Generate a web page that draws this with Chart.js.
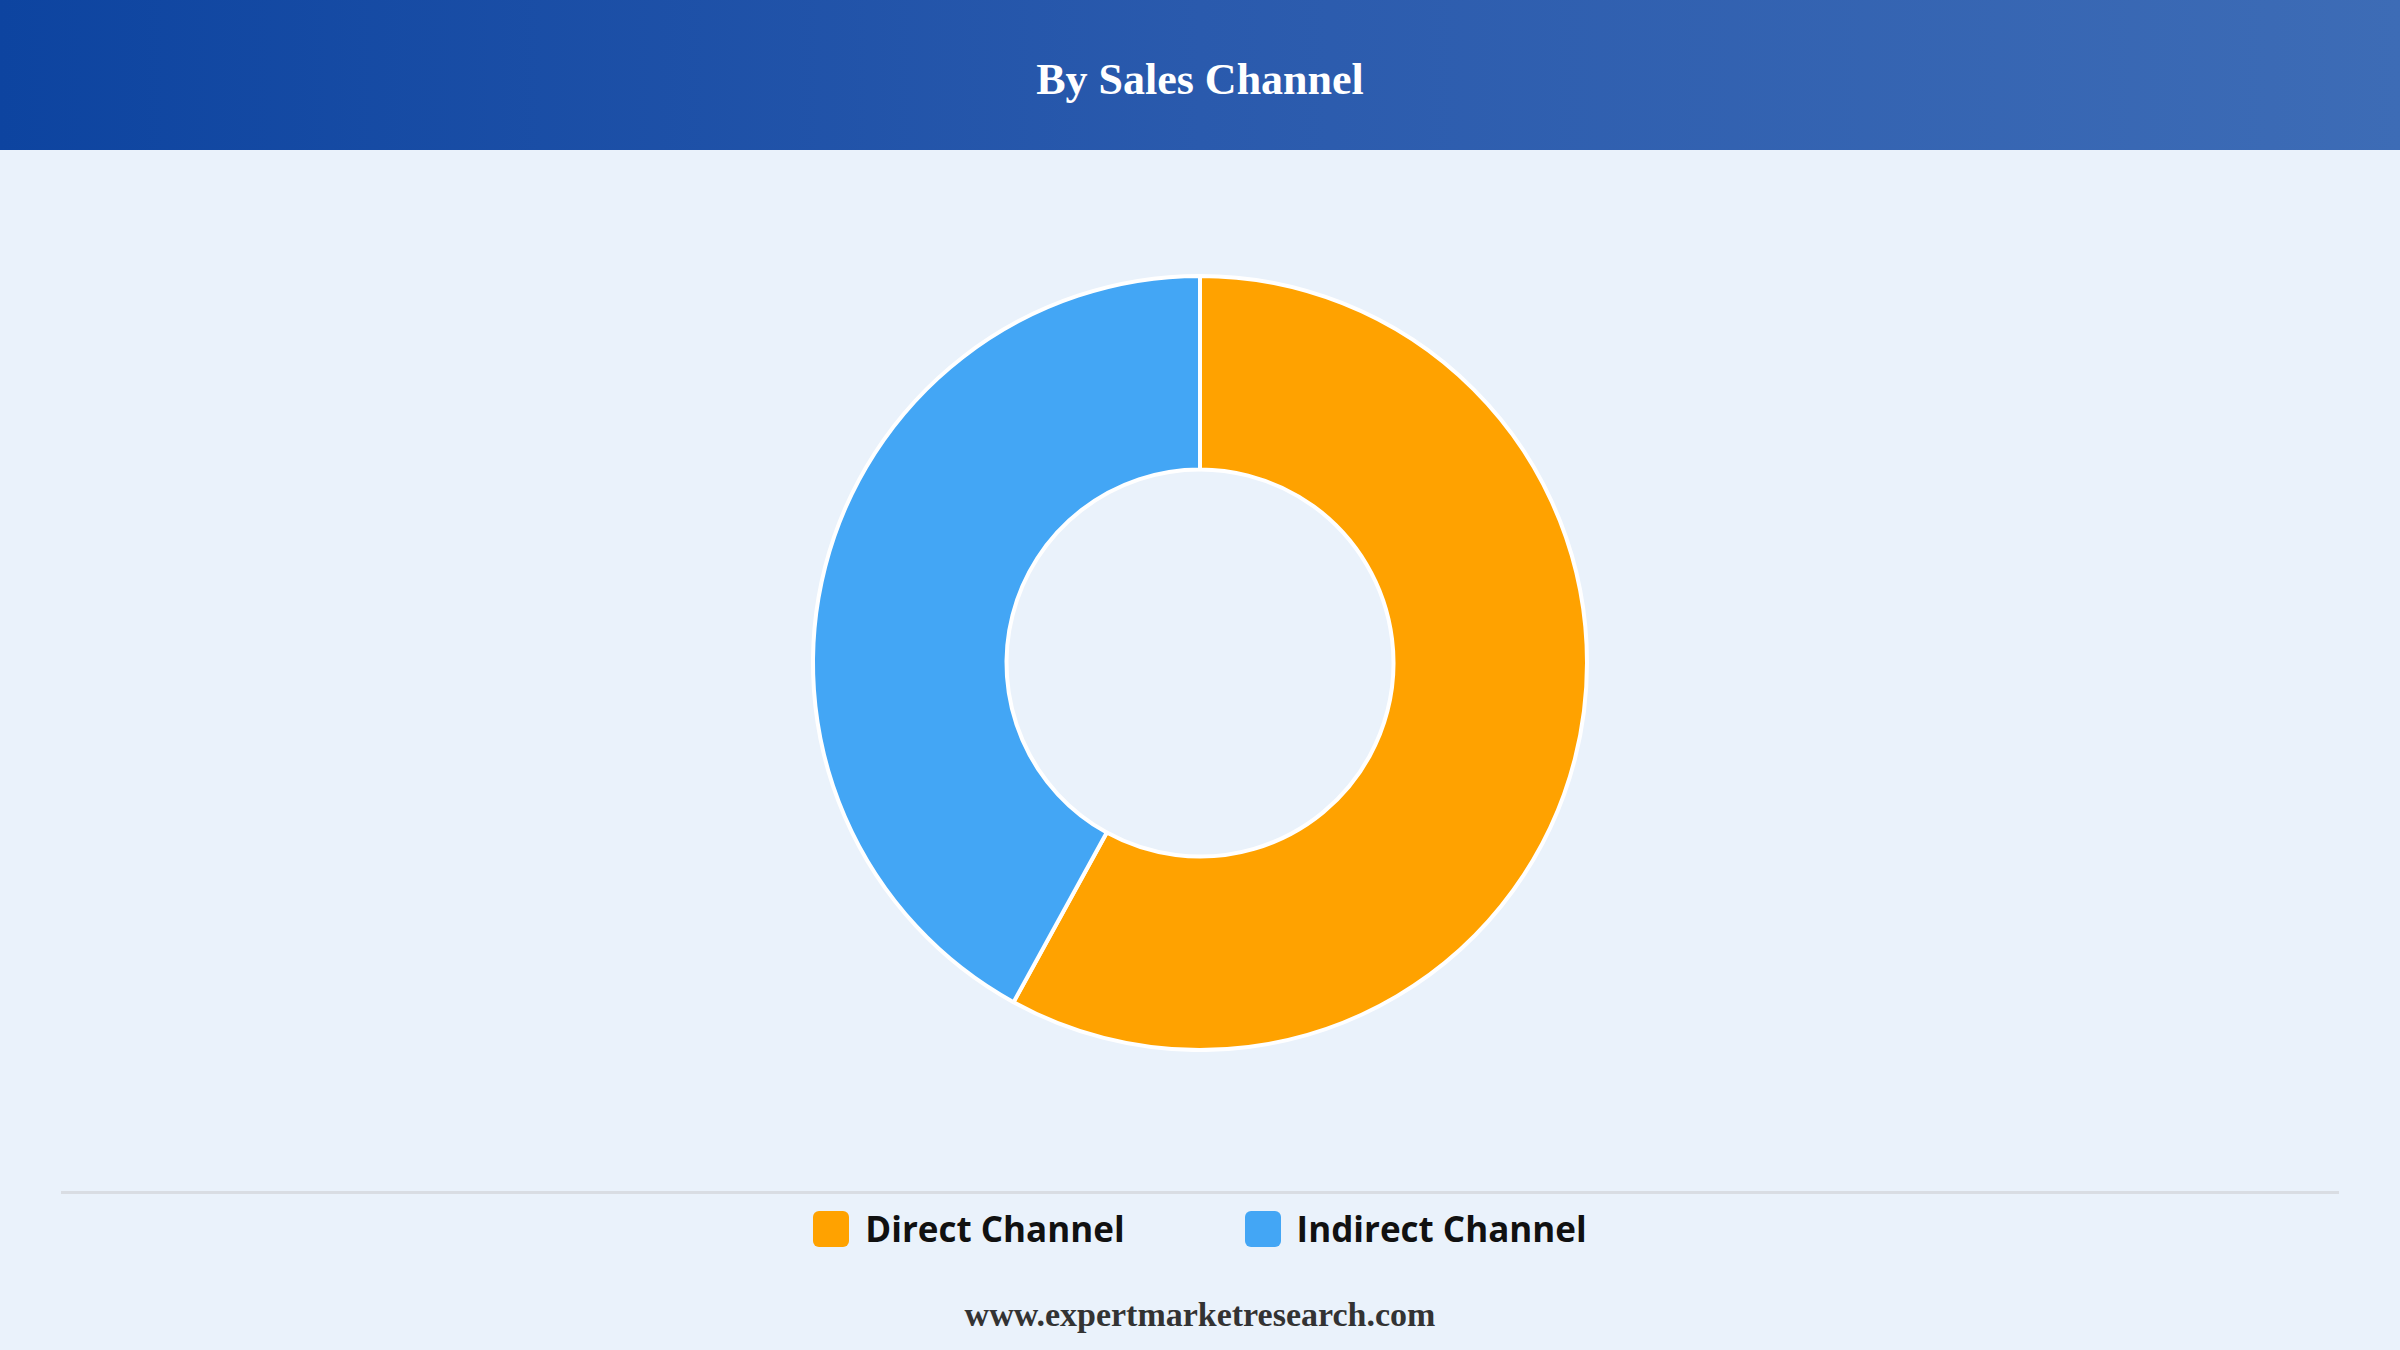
<!DOCTYPE html>
<html>
<head>
<meta charset="utf-8">
<script src="https://cdn.jsdelivr.net/npm/chart.js@4"></script>
<style>
  html, body { margin:0; padding:0; width:2400px; height:1350px; background:#eaf2fb; overflow:hidden; }
  #header { position:absolute; left:0; top:0; width:2400px; height:150px;
    background:linear-gradient(90deg,#0d44a0 0%,#2a5aad 50%,#3d6cb6 100%);
    color:#fff; font-family:"Liberation Serif","DejaVu Serif",serif; font-weight:bold;
    font-size:44px; text-align:center; line-height:160px; }
  #wrap { position:absolute; left:0; top:274px; width:2400px; height:778px; }
  #sep { position:absolute; left:61px; width:2278px; top:1191px; height:3px; background:#d9dde3; }
  #legend { position:absolute; top:1205px; left:0; width:2400px; display:flex; justify-content:center;
    font-family:"Open Sans","Noto Sans",sans-serif; font-weight:bold; font-size:35px; color:#111; }
  .item { display:flex; align-items:center; margin:0 60px; }
  .box { width:36px; height:36px; border-radius:6px; margin-right:16px; }
  #footer { position:absolute; top:1296px; width:2400px; text-align:center;
    font-family:"Liberation Serif","DejaVu Serif",serif; font-weight:bold; font-size:34px; color:#333; }
</style>
</head>
<body>
<div id="header">By Sales Channel</div>
<div id="wrap"><canvas id="chart"></canvas></div>
<div id="sep"></div>
<div id="legend"></div>
<div id="footer">www.expertmarketresearch.com</div>
<script>
// ========== Datos ==========
const CANALES = ["Direct Channel", "Indirect Channel"];
const VALORES = [58, 42];
const COLORES = ["#ffa200", "#43a6f5"];

// ========== Leyenda ==========
const leyenda = document.getElementById("legend");
CANALES.forEach((c, i) => {
  const it = document.createElement("div");
  it.className = "item";
  it.innerHTML = `<span class="box" style="background:${COLORES[i]}"></span>${c}`;
  leyenda.appendChild(it);
});

// ========== Gráfica ==========
new Chart(document.getElementById("chart"), {
  type: "doughnut",
  data: {
    labels: CANALES,
    datasets: [{ data: VALORES, backgroundColor: COLORES, borderColor: "#ffffff", borderWidth: 4 }]
  },
  options: {
    responsive: true,
    maintainAspectRatio: false,
    animation: false,
    cutout: "50%",
    plugins: { legend: { display: false }, tooltip: { enabled: false } }
  }
});
</script>
</body>
</html>
